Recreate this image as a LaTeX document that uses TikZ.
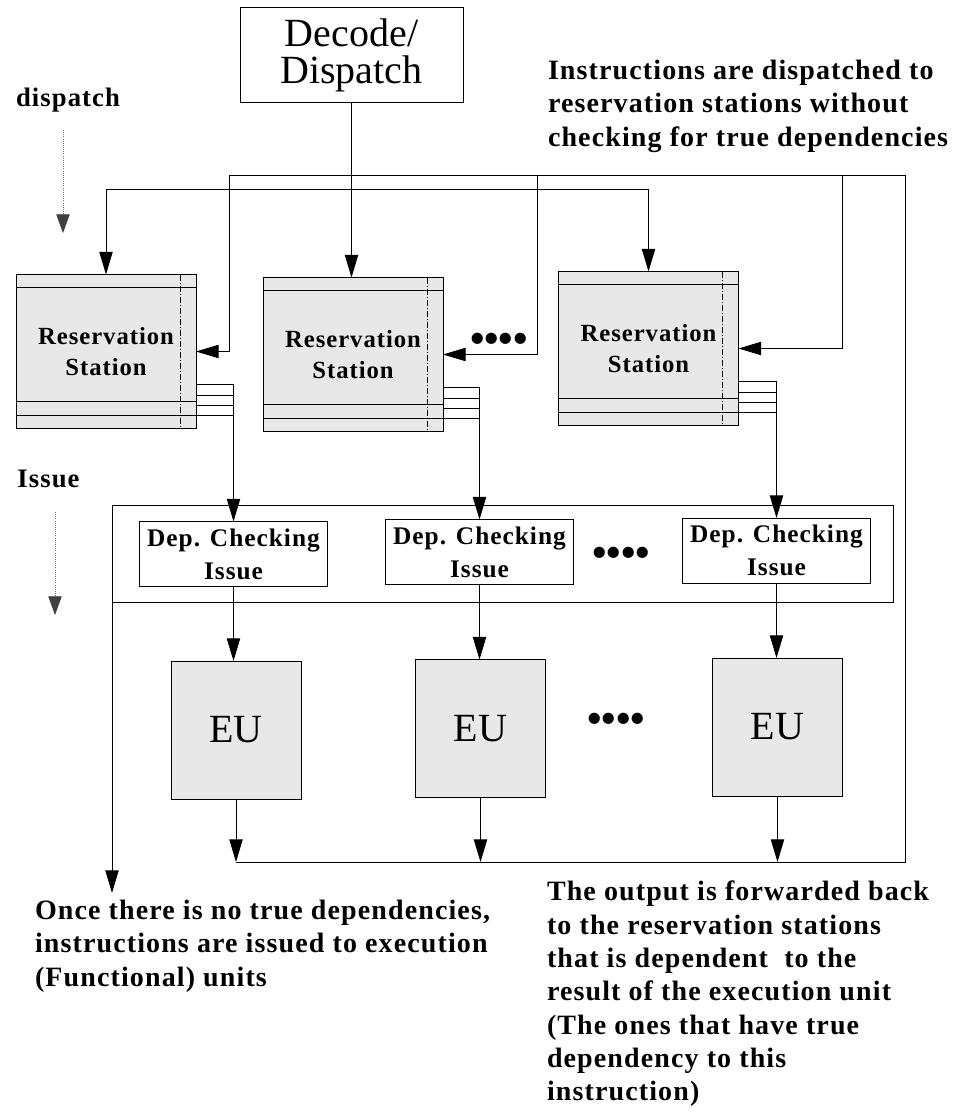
\documentclass[tikz,border=0pt]{standalone}
\usepackage{fontspec}
\setmainfont{Liberation Serif}
\newfontfamily\notefont[LetterSpace=4]{Liberation Serif}
\usetikzlibrary{arrows.meta,calc}
\definecolor{stip}{gray}{0.91}
\begin{document}
\begin{tikzpicture}[x=0.75pt,y=-0.75pt,
  every node/.style={inner sep=0pt,outer sep=0pt},
  box/.style 2 args={draw,line width=0.75pt,minimum width=#1*0.75pt,minimum height=#2*0.75pt},
  decbox/.style={box={223}{95},fill=white,align=center,font=\fontsize{30}{27.75}\selectfont},
  rsbox/.style={box={180}{154},fill=stip,align=center,font=\notefont\bfseries\fontsize{18.5}{23.25}\selectfont},
  depbox/.style={box={188}{65},fill=white,align=center,font=\notefont\bfseries\fontsize{19}{24.75}\selectfont},
  eubox/.style={box={130}{138},fill=stip,font=\fontsize{30}{36}\selectfont},
  wire/.style={line width=0.7pt},
  arr/.style={wire,-{Triangle[length=17pt,width=10pt]}},
  guide/.style={line width=0.6pt,black!55,densely dotted,-{Triangle[length=14pt,width=10pt,color=black!75,fill=black!75]}},
  note/.style={align=left,font=\notefont\bfseries\fontsize{21}{25}\selectfont},
  lbl/.style={font=\notefont\bfseries\fontsize{20}{24}\selectfont},
  dotrow/.style={font=\bfseries\fontsize{31}{31}\selectfont},
  inner/.style={line width=0.6pt},
  dashdot/.style={line width=0.6pt,dash pattern=on 4.5pt off 1.5pt on 0.75pt off 1.5pt}
]
\path[fill=white] (0,0) rectangle (962,1120);
\useasboundingbox (0,0) rectangle (962,1120);

% ---------- nodes ----------
\node[decbox] (dec) at (351.5,55.5) {Decode/\\Dispatch};

\node[rsbox] (rs1) at (106,351.5) {Reservation\\Station};
\node[rsbox] (rs2) at (353,354.5) {Reservation\\Station};
\node[rsbox] (rs3) at (648.5,348.5) {Reservation\\Station};

\node[box={781}{97}] (iss) at (502.5,553.5) {};
\node[depbox] (dep1) at (233.5,554) {Dep. Checking\\Issue};
\node[depbox] (dep2) at (479.5,552) {Dep. Checking\\Issue};
\node[depbox] (dep3) at (776.5,550.5) {Dep. Checking\\Issue};

\node[eubox] (eu1) at (236,730) {EU};
\node[eubox] (eu2) at (480.5,728.5) {EU};
\node[eubox] (eu3) at (777.5,727) {EU};

\node[dotrow] (dotsA) at (499,343) {••••};
\node[dotrow] (dotsB) at (621,557) {••••};
\node[dotrow] (dotsC) at (616,723) {••••};

\node[lbl] (lblDispatch) at (68,100) {dispatch};
\node[lbl] (lblIssue) at (48.5,479) {Issue};

\node[note,anchor=north west] (noteTop) at (548,60)
  {Instructions are dispatched to\\reservation stations without\\checking for true dependencies};
\node[note,anchor=north west] (noteLeft) at (35,900)
  {Once there is no true dependencies,\\instructions are issued to execution\\(Functional) units};
\node[note,anchor=north west] (noteRight) at (547,881)
  {The output is forwarded back\\to the reservation stations\\that is dependent\ \ to the\\result of the execution unit\\(The ones that have true\\dependency to this\\instruction)};

% ---------- reservation station details ----------
\foreach \i in {1,2,3}{
  \draw[inner] ($(rs\i.north west)+(0,13)$) -- ($(rs\i.north east)+(0,13)$);
  \draw[inner] ($(rs\i.south west)+(0,-27)$) -- ($(rs\i.south east)+(0,-27)$);
  \draw[inner] ($(rs\i.south west)+(0,-13)$) -- ($(rs\i.south east)+(0,-13)$);
  \draw[dashdot] ($(rs\i.north east)+(-16,0)$) -- ($(rs\i.south east)+(-16,0)$);
  \coordinate (sc\i) at (rs\i.south east -| dep\i.north);
  \foreach \o in {-44,-33,-23,-13}{
    \draw[inner] ($(rs\i.south east)+(0,\o)$) -- ($(sc\i)+(0,\o)$);
  }
  \draw[arr] ($(sc\i)+(0,-44)$) -- (dep\i.north);
  \draw[arr] (dep\i.south) -- (dep\i.south |- eu\i.north);
}

% ---------- dispatch bus ----------
\coordinate (dL) at (106,189);
\coordinate (dR) at (648.5,189);
\draw[wire] (dL) -- (dR);
\draw[arr] (dL) -- (rs1.north);
\draw[arr] (dR) -- (rs3.north);
\draw[arr] (dec.south) -- (dec.south |- rs2.north);

% ---------- forwarding bus ----------
\coordinate (busL) at (236,862);
\coordinate (busR) at (905,862);
\coordinate (topR) at (905,175);
\coordinate (topL) at (229,175);
\coordinate (b2) at (537,175);
\coordinate (b3) at (842,175);
\draw[wire] (busL) -- (busR) -- (topR) -- (topL);
\draw[arr] (topL) |- (rs1.east);
\draw[arr] (b2) |- (rs2.east);
\draw[arr] (b3) |- (rs3.east);
\foreach \i in {1,2,3}{
  \draw[arr] (eu\i.south) -- (eu\i.south |- busL);
}

% ---------- issue output arrow ----------
\coordinate (onceTip) at (112,893);
\draw[arr] (iss.south west) -- (onceTip);

% ---------- stage guides ----------
\coordinate (gd1) at (63,130);
\coordinate (gd2) at (63,233);
\draw[guide] (gd1) -- (gd2);
\coordinate (gi1) at (55,512);
\coordinate (gi2) at (55,615);
\draw[guide] (gi1) -- (gi2);
\end{tikzpicture}
\end{document}
